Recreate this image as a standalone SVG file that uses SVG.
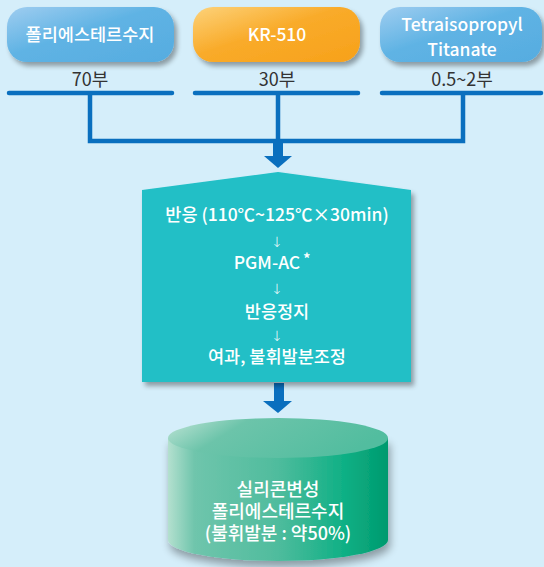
<svg xmlns="http://www.w3.org/2000/svg" width="544" height="567" viewBox="0 0 544 567">
<defs>
<linearGradient id="gBlue" x1="0" y1="0" x2="1" y2="1">
<stop offset="0" stop-color="#9fcdf0"/><stop offset="0.45" stop-color="#5fb3e4"/><stop offset="1" stop-color="#56ace0"/>
</linearGradient>
<linearGradient id="gOrange" x1="0" y1="0" x2="1" y2="1">
<stop offset="0" stop-color="#fdd27a"/><stop offset="0.45" stop-color="#f9ab2a"/><stop offset="1" stop-color="#f7a11a"/>
</linearGradient>
<linearGradient id="gBody" x1="0" y1="0" x2="1" y2="0">
<stop offset="0" stop-color="#b4e0cf"/><stop offset="0.12" stop-color="#6fc5ac"/><stop offset="0.5" stop-color="#4fbc9d"/><stop offset="0.8" stop-color="#0fb085"/><stop offset="1" stop-color="#009a6e"/>
</linearGradient>
<linearGradient id="gTop" x1="0" y1="0" x2="1" y2="0.3">
<stop offset="0" stop-color="#c2e5d7"/><stop offset="0.35" stop-color="#6cc4aa"/><stop offset="1" stop-color="#52bd9f"/>
</linearGradient>
<filter id="sh" x="-10%" y="-10%" width="130%" height="140%">
<feGaussianBlur in="SourceAlpha" stdDeviation="2.5"/>
<feOffset dx="3" dy="4" result="b"/>
<feComponentTransfer><feFuncA type="linear" slope="0.35"/></feComponentTransfer>
<feMerge><feMergeNode/><feMergeNode in="SourceGraphic"/></feMerge>
</filter>
<filter id="shc" x="-10%" y="-10%" width="130%" height="140%">
<feGaussianBlur in="SourceAlpha" stdDeviation="4"/>
<feOffset dx="2" dy="6" result="b"/>
<feComponentTransfer><feFuncA type="linear" slope="0.35"/></feComponentTransfer>
<feMerge><feMergeNode/><feMergeNode in="SourceGraphic"/></feMerge>
</filter>
</defs>
<style>
.t{font-family:"Noto Sans CJK KR","Noto Sans",sans-serif;font-size:17.5px;fill:#ffffff;text-anchor:middle;font-weight:500}
.lab{font-family:"Noto Sans CJK KR","Noto Sans",sans-serif;font-size:18px;fill:#333333;text-anchor:middle}
.ln{stroke:#0a6fbe;stroke-width:4.5;fill:none;stroke-linecap:round}
.ar{fill:#0a6fbe}
.sm{font-family:"DejaVu Sans",sans-serif;font-size:14px;fill:#ffffff;text-anchor:middle;font-weight:300}
</style>
<rect x="0" y="0" width="544" height="567" fill="#d5eefa"/>

<g id="node-polyester">
<rect x="7" y="7" width="167" height="55" rx="20" fill="url(#gBlue)" filter="url(#sh)"/>
<text class="t" x="90" y="41">폴리에스테르수지</text>
<text class="lab" x="90" y="86">70부</text>
</g>
<g id="node-kr510">
<rect x="193" y="7" width="167" height="55" rx="20" fill="url(#gOrange)" filter="url(#sh)"/>
<text class="t" x="277" y="41">KR-510</text>
<text class="lab" x="277" y="86">30부</text>
</g>
<g id="node-titanate">
<rect x="380" y="7" width="162" height="55" rx="20" fill="url(#gBlue)" filter="url(#sh)"/>
<text class="t" x="462" y="31">Tetraisopropyl</text>
<text class="t" x="462" y="56">Titanate</text>
<text class="lab" x="462" y="86">0.5~2부</text>
</g>

<g id="connectors">
<line class="ln" x1="9" y1="93" x2="172" y2="93"/>
<line class="ln" x1="195" y1="93" x2="358" y2="93"/>
<line class="ln" x1="382" y1="93" x2="541" y2="93"/>
<polyline class="ln" style="stroke-linecap:butt;stroke-linejoin:miter" points="90,93 90,141 463,141 463,93"/>
<line class="ln" style="stroke-linecap:butt" x1="278" y1="93" x2="278" y2="141"/>
<rect class="ar" x="273" y="139" width="10" height="18"/>
<polygon class="ar" points="264,156 292,156 278,168"/>
<rect class="ar" x="274" y="383" width="10" height="19"/>
<polygon class="ar" points="263,401 292,401 278,413"/>
</g>

<g id="node-process">
<polygon points="278,172 411,190 411,382 142,382 142,190" fill="#20bfc6" filter="url(#sh)"/>
<text class="t" x="277" y="221">반응 (110℃~125℃×30min)</text>
<text class="sm" x="277" y="247">↓</text>
<text class="t" x="272" y="269">PGM-AC<tspan dx="3" dy="-5" font-size="14" font-weight="700">*</tspan></text>
<text class="sm" x="277" y="294">↓</text>
<text class="t" x="277" y="318">반응정지</text>
<text class="sm" x="277" y="341">↓</text>
<text class="t" x="277" y="363">여과, 불휘발분조정</text>
</g>

<g id="node-product">
<path d="M168,438 L168,540 A110,21 0 0 0 388,540 L388,438 Z" fill="url(#gBody)" filter="url(#shc)"/>
<ellipse cx="278" cy="438" rx="110" ry="20" fill="url(#gTop)"/>
<text class="t" x="278" y="496" style="font-size:18px">실리콘변성</text>
<text class="t" x="278" y="518" style="font-size:18px">폴리에스테르수지</text>
<text class="t" x="278" y="540" style="font-size:18px">(불휘발분 : 약50%)</text>
</g>
</svg>
